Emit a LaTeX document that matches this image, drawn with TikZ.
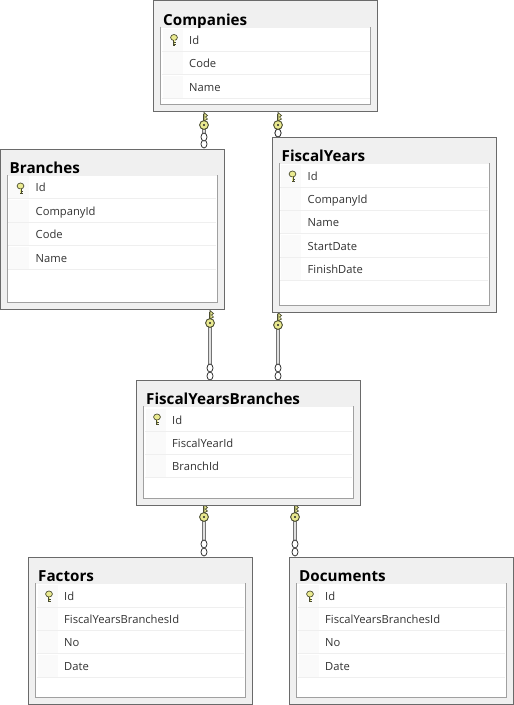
\documentclass[tikz,border=0pt]{standalone}
\usepackage{fontspec}
\setmainfont{Open Sans}
\definecolor{frame}{HTML}{6A6A6A}
\definecolor{panel}{HTML}{F0F0F0}
\definecolor{inner}{HTML}{A0A0A0}
\definecolor{rowline}{HTML}{EFEFEF}
\definecolor{gutter}{HTML}{FAFAFA}
\definecolor{keyfill}{HTML}{EAEA90}
\definecolor{keyline}{HTML}{4A4C30}
\tikzset{
 tablebox/.style={draw=frame,line width=1pt,fill=panel,inner sep=0pt,outer sep=0pt,anchor=north west},
 innerbox/.style={fill=white,inner sep=0pt,outer sep=0pt,anchor=north west},
 innerline/.style={draw=inner,line width=0.9pt},
 titletext/.style={font=\fontsize{15.2}{17}\selectfont\bfseries,text=black,anchor=base west,inner sep=0pt},
 rowtext/.style={font=\fontsize{11.2}{13}\selectfont,text=black!80,anchor=base west,inner sep=0pt},
 sep/.style={draw=rowline,line width=1pt},
 stem/.style={draw=black!55,line width=4.2pt},
 stemcore/.style={draw=white!88!black,line width=2.2pt},
 hub/.style={draw=keyline,line width=0.9pt,fill=keyfill},
 ring/.style={draw=black!80,line width=0.8pt,fill=white},
 keyglyph/.style={draw=keyline,line width=0.7pt,fill=keyfill},
}
% \tbl{name}{title}{x1}{y1}{x2}{y2}{inner bottom}{row list}
\newcommand{\tbl}[8]{%
 \node[tablebox,minimum width=#5pt-#3pt,minimum height=#6pt-#4pt] (#1) at (#3,#4) {};
 \node[titletext] (#1-title) at (#3+9.5,#4+24.5) {#2};
 \node[innerbox,minimum width=#5pt-#3pt-14pt,minimum height=#7pt-#4pt-27pt] (#1-inner) at (#3+7,#4+27) {};
 \draw[innerline] (#3+7,#4+26) -- (#3+7,#7) -- (#5-7,#7) -- (#5-7,#4+26);
 \foreach \lab/\yy [count=\i] in {#8} {
  \fill[gutter] (#3+9,\yy-11.5) rectangle (#3+29,\yy+11.5);
  \draw[sep] (#3+8,\yy+11.5) -- (#5-8,\yy+11.5);
  \node[rowtext] (#1-row\i) at (#3+35.5,\yy+4.5) {\lab};
 }
 \keyicon{#3+20.5}{#4+39.5}
}
\newcommand{\keyicon}[2]{%
 \draw[keyglyph] (#1,#2-2.5) ellipse (3.4 and 3);
 \draw[keyline,line width=2pt] (#1,#2) -- (#1,#2+5.5);
 \draw[keyfill,line width=0.8pt] (#1,#2) -- (#1,#2+4.5);
 \draw[keyline,line width=0.8pt] (#1,#2+2.5) -- (#1+2.2,#2+2.5) (#1,#2+4.5) -- (#1+2.2,#2+4.5);
}
% \conn{from}{to}{x}{hub y}{ring1 y}{ring2 y}
\newcommand{\conn}[6]{%
 \coordinate (c-#1-#2) at (#3,#4);
 \coordinate (r-#1-#2) at (#3,#5);
 \draw[stem,line cap=butt] (c-#1-#2) -- (r-#1-#2);
 \draw[stemcore] (c-#1-#2) -- (r-#1-#2);
 \draw[ring] (#3,#6) ellipse (3 and 4);
 \draw[ring] (r-#1-#2) ellipse (3 and 4);
 \draw[keyline,line width=1.4pt] (#3-0.5,#4-3) -- (#3-0.5,#4-11.5);
 \draw[keyline,line width=0.7pt,fill=keyfill] (#3,#4-12.5) -- (#3+3.5,#4-9.5) -- (#3+1.5,#4-8) -- (#3+3.5,#4-6) -- (#3,#4-4) -- cycle;
 \draw[hub] (c-#1-#2) circle (4.4);
 \fill[black!85] (c-#1-#2) circle (1.2);
}
\begin{document}
\begin{tikzpicture}[x=1pt,y=-1pt]
\useasboundingbox (0,0) rectangle (514,705);
\fill[white] (0,0) rectangle (514,705);
\conn{companies}{branches}{204}{125}{137}{144}
\conn{companies}{fiscalyears}{278}{125}{133}{133}
\conn{branches}{fyb}{210}{323}{368}{376}
\conn{fiscalyears}{fyb}{278}{325}{368}{376}
\conn{fyb}{factors}{204}{517}{544}{552}
\conn{fyb}{documents}{295}{517}{544}{552}
\tbl{companies}{Companies}{153.5}{0.5}{377.5}{111.5}{104.5}{Id/40,Code/63,Name/87}
\tbl{branches}{Branches}{0}{149}{224}{309}{302}{Id/187,CompanyId/211,Code/234,Name/258}
\tbl{fiscalyears}{FiscalYears}{272}{137}{496}{312}{305}{Id/176,CompanyId/199,Name/222,StartDate/246,FinishDate/269}
\tbl{fyb}{FiscalYearsBranches}{136.5}{380}{360}{505}{498}{Id/420,FiscalYearId/443,BranchId/466}
\tbl{factors}{Factors}{28.5}{557}{252}{704}{697}{Id/596,FiscalYearsBranchesId/619,No/642,Date/666}
\tbl{documents}{Documents}{289.5}{557}{513}{704}{697}{Id/596,FiscalYearsBranchesId/619,No/642,Date/666}
\end{tikzpicture}
\end{document}
